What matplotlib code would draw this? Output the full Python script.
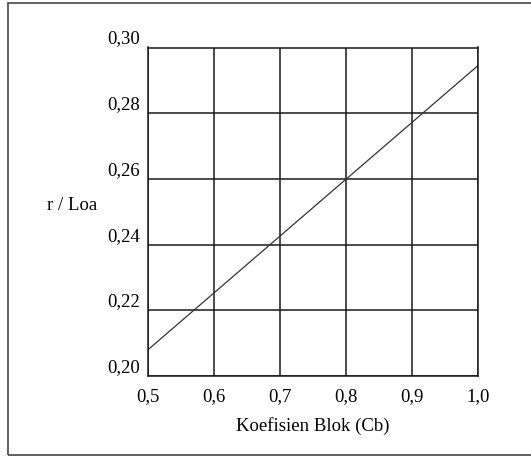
import matplotlib
matplotlib.use('Agg')
import matplotlib.pyplot as plt
from matplotlib.patches import Rectangle

# data
cb = [0.5, 1.0]
r_loa = [0.208, 0.2945]
x_ticks = [0.5, 0.6, 0.7, 0.8, 0.9, 1.0]
x_labels = ['0,5', '0,6', '0,7', '0,8', '0,9', '1,0']
y_ticks = [0.20, 0.22, 0.24, 0.26, 0.28, 0.30]
y_labels = ['0,20', '0,22', '0,24', '0,26', '0,28', '0,30']

plt.rcParams['font.family'] = ['Liberation Serif', 'DejaVu Serif']
FS = 13.5

W, H = 531, 458
fig = plt.figure(figsize=(W / 100, H / 100), dpi=100)
ax = fig.add_axes([148 / W, 1 - 376 / H, 330 / W, 328.5 / H])

ax.plot(cb, r_loa, color='#333333', linewidth=0.9)

ax.set_xlim(0.5, 1.0)
ax.set_ylim(0.20, 0.30)
ax.set_xticks(x_ticks)
ax.set_xticklabels(x_labels, fontsize=FS)
ax.set_yticks(y_ticks)
ax.set_yticklabels(y_labels, fontsize=FS)
for lab in ax.get_yticklabels():
    lab.set_va('bottom')
ax.tick_params(axis='x', length=0, pad=9)
ax.tick_params(axis='y', length=0, pad=6)
ax.grid(True, color='#1a1a1a', linewidth=1.1)
for s in ax.spines.values():
    s.set_color('#1a1a1a')
    s.set_linewidth(1.1)

fig.text(72 / W, 1 - 205 / H, 'r / Loa', ha='center', va='center', fontsize=FS)
fig.text(313 / W, 1 - 426 / H, 'Koefisien Blok (Cb)', ha='center', va='center', fontsize=FS)

# outer frame
fig.patches.append(Rectangle((8 / W, 1 - 455 / H), 600 / W, 452 / H,
                             transform=fig.transFigure, fill=False,
                             edgecolor='#444444', linewidth=1.2))

fig.savefig('out.png', dpi=100)
